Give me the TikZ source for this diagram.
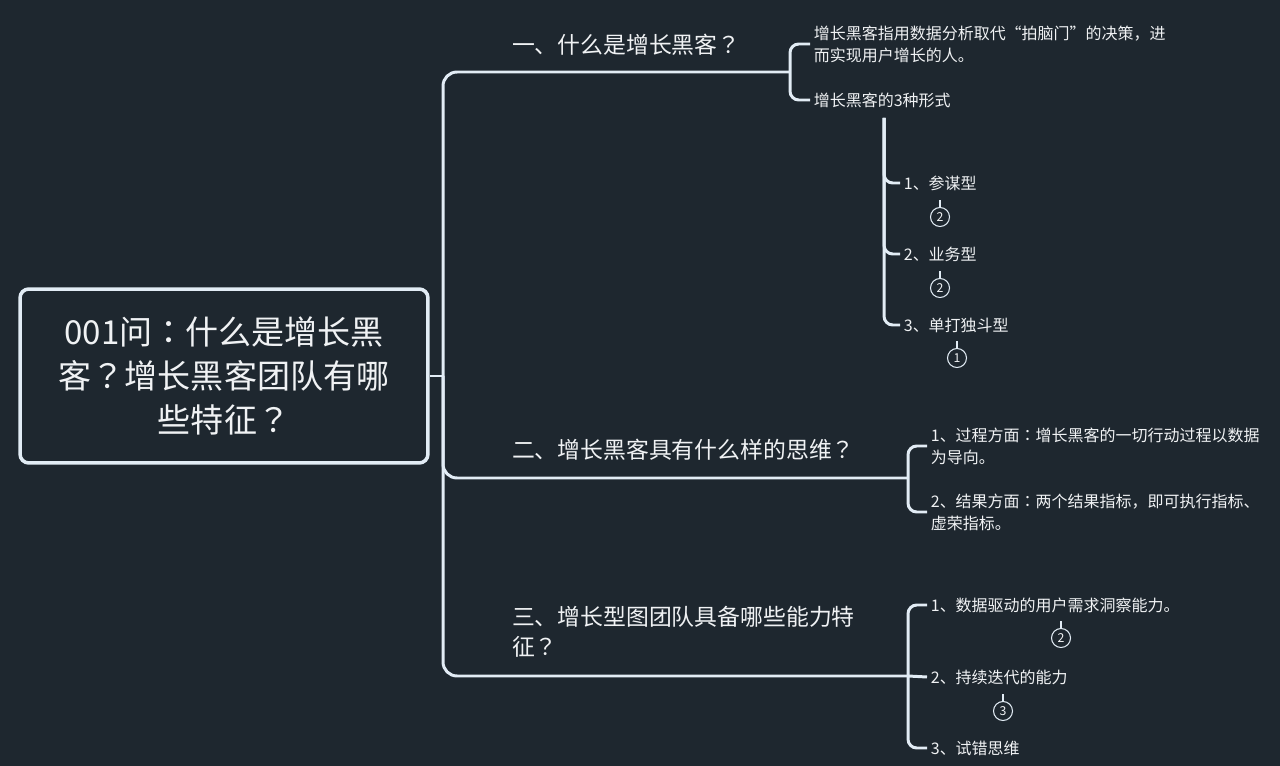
\documentclass[tikz,border=0pt]{standalone}
\usepackage{fontspec}
\setmainfont{Noto Sans CJK SC}
\newfontfamily\jpfont{Noto Sans CJK JP}
\newcommand{\qm}{{\jpfont ？}}
\newcommand{\cln}{{\jpfont ：}}
\usepackage{tikz}
\usetikzlibrary{positioning}
\usepackage{xcolor}
\definecolor{bgdark}{RGB}{30,39,47}
\definecolor{linelight}{RGB}{226,236,245}
\definecolor{txtlight}{RGB}{240,242,244}

\begin{document}
\begin{tikzpicture}[
    x=0.02cm, y=-0.02cm,
    conn/.style = {draw=linelight, line width=1.7pt, rounded corners=5pt},
    rootbox/.style = {draw=linelight, line width=2pt, rounded corners=5pt, fill=bgdark,
      minimum width=8.16cm, minimum height=3.48cm, align=center, text=txtlight,
      font=\fontsize{18.8}{25}\selectfont},
    branch/.style = {anchor=west, inner sep=1pt, align=left, text=txtlight,
      font=\fontsize{13}{17}\selectfont},
    leaf/.style = {anchor=west, inner sep=2pt, align=left, text=txtlight,
      font=\fontsize{9.1}{12.5}\selectfont},
    badge/.style = {circle, draw=linelight, line width=0.6pt, inner sep=0pt,
      minimum size=0.38cm, text=txtlight, font=\fontsize{7}{8}\selectfont},
    stem/.style = {draw=linelight, line width=1.6pt}
  ]
  % background fixes the page size (1280 x 766 px)
  \fill[bgdark] (0,0) rectangle (1280,766);

  % root and the three questions
  \node[rootbox] (root) at (224,376) {001问\cln 什么是增长黑\\客\qm 增长黑客团队有哪\\些特征\qm};
  \node[branch] (b1) at (510,45)  {一、什么是增长黑客\qm};
  \node[branch] (b2) at (510,450) {二、增长黑客具有什么样的思维\qm};
  \node[branch] (b3) at (510,632) {三、增长型图团队具备哪些能力特\\征\qm};

  \coordinate (hub)   at (443,376);
  \coordinate (b1end) at (790,72);
  \coordinate (b2end) at (908,478);
  \coordinate (b3end) at (908,676);

  \draw[conn] (root.east) -- (hub);
  \draw[conn, rounded corners=8pt] (hub) |- (b1end);
  \draw[conn, rounded corners=8pt] (hub) |- (b2end);
  \draw[conn, rounded corners=8pt] (hub) |- (b3end);

  % branch 1
  \node[leaf] (l11) at (810,44)  {增长黑客指用数据分析取代“拍脑门”的决策，进\\而实现用户增长的人。};
  \node[leaf] (l12) at (810,100) {增长黑客的3种形式};
  \draw[conn] (l11.west) -| (b1end) |- (l12.west);

  \node[leaf] (c1) at (900,183) {1、参谋型};
  \node[leaf] (c2) at (900,254) {2、业务型};
  \node[leaf] (c3) at (900,325) {3、单打独斗型};
  \coordinate (l12foot) at (884,118);
  \draw[conn] (l12foot) |- (c1.west);
  \draw[conn] (l12foot) |- (c2.west);
  \draw[conn] (l12foot) |- (c3.west);

  \node[badge] (k1) at (940,217) {2};
  \node[badge] (k2) at (940,288) {2};
  \node[badge] (k3) at (957,358) {1};

  % branch 2
  \node[leaf] (l21) at (927,446) {1、过程方面\cln 增长黑客的一切行动过程以数据\\为导向。};
  \node[leaf] (l22) at (927,512) {2、结果方面\cln 两个结果指标，即可执行指标、\\虚荣指标。};
  \draw[conn] (l21.west) -| (b2end) |- (l22.west);

  % branch 3
  \node[leaf] (l31) at (927,605) {1、数据驱动的用户需求洞察能力。};
  \node[leaf] (l32) at (927,677) {2、持续迭代的能力};
  \node[leaf] (l33) at (927,748) {3、试错思维};
  \draw[conn] (l31.west) -| (b3end) |- (l33.west);
  \draw[conn] (b3end) -- (l32.west);

  \node[badge] (k4) at (1061,638) {2};
  \node[badge] (k5) at (1003,711) {3};

  % little stems on the badges
  \foreach \k in {k1,k2,k3,k4,k5}
    \draw[stem] (\k.north) -- ++(0,-7);
\end{tikzpicture}
\end{document}
